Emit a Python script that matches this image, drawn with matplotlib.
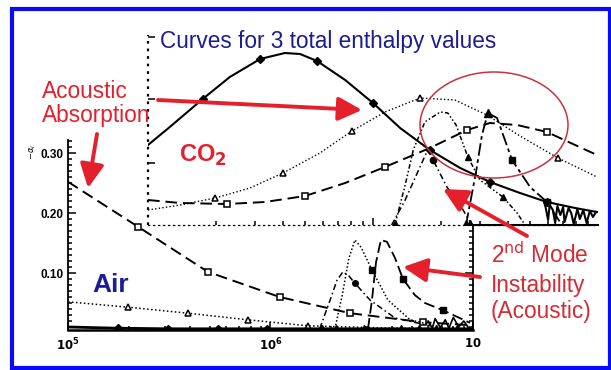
import numpy as np
import matplotlib
matplotlib.use("Agg")
import matplotlib.pyplot as plt
from matplotlib.patches import Rectangle, Ellipse
from matplotlib.ticker import LogLocator, NullFormatter, MultipleLocator

plt.rcParams['font.family'] = ['Liberation Sans', 'DejaVu Sans']

# ---- Air (bottom plot) ----
air_abs_re = [1.0e5, 2.22e5, 4.9e5, 1.11e6, 2.47e6, 5.66e6, 9.7e6]
air_abs_y = [0.252, 0.177, 0.102, 0.060, 0.033, 0.018, 0.013]
air_abs_mk = [1, 2, 3, 4, 5]

air_tri_re = [1.0e5, 1.98e5, 3.91e5, 7.74e5, 1.53e6, 4.0e6, 9.7e6]
air_tri_y = [0.052, 0.043, 0.033, 0.022, 0.012, 0.008, 0.007]
air_tri_mk = [1, 2, 3, 4]

air_sol_re = [1.0e5, 1.76e5, 3.1e5, 5.5e5, 9.6e5, 1.7e6, 9.9e6]
air_sol_y = [0.010, 0.008, 0.007, 0.007, 0.007, 0.007, 0.007]
air_sol_mk = [1, 2, 3, 4]

air_p1_re = [1.75e6, 1.97e6, 2.13e6, 2.28e6, 2.44e6, 2.61e6, 3.10e6, 4.12e6, 6.14e6]
air_p1_y = [0.007, 0.055, 0.088, 0.102, 0.095, 0.083, 0.055, 0.025, 0.012]
air_p2_re = [2.08e6, 2.26e6, 2.44e6, 2.61e6, 2.80e6, 3.17e6, 3.80e6, 4.89e6, 6.87e6]
air_p2_y = [0.007, 0.063, 0.125, 0.155, 0.143, 0.105, 0.055, 0.022, 0.010]
air_p3_re = [3.03e6, 3.17e6, 3.32e6, 3.51e6, 3.76e6, 4.12e6, 4.51e6, 5.17e6, 5.79e6, 7.1e6, 9.66e6]
air_p3_y = [0.007, 0.055, 0.118, 0.155, 0.152, 0.125, 0.090, 0.063, 0.050, 0.038, 0.017]

air_base_re = [1.8e6, 2.1e6, 2.9e6, 4.4e6, 5.4e6, 6.6e6, 8.3e6]
air_base_y = [0.009, 0.009, 0.009, 0.009, 0.009, 0.009, 0.009]

air_noise_re = [6.0e6, 6.3e6, 6.5e6, 6.9e6, 7.3e6, 7.6e6, 8.0e6, 8.5e6, 9.0e6, 9.5e6]
air_noise_y = [0.020, 0.008, 0.024, 0.009, 0.022, 0.008, 0.026, 0.010, 0.020, 0.009]

# ---- CO2 (top plot) ----
co2_sol_re = [1.0e5, 1.25e5, 1.75e5, 2.31e5, 3.15e5, 4.06e5, 4.74e5, 5.64e5, 7.52e5,
              1.0e6, 1.32e6, 1.79e6, 2.44e6, 3.31e6, 4.50e6, 5.93e6, 7.91e6, 9.9e6]
co2_sol_y = [0.160, 0.196, 0.252, 0.296, 0.332, 0.344, 0.342, 0.328, 0.290,
             0.244, 0.194, 0.150, 0.114, 0.086, 0.064, 0.046, 0.034, 0.026]
co2_sol_mk = [2, 4, 7, 9, 11, 13, 15]

co2_tri_re = [1.0e5, 1.39e5, 1.99e5, 2.84e5, 3.98e5, 5.81e5, 8.07e5, 1.13e6, 1.62e6,
              2.31e6, 3.21e6, 4.50e6, 6.64e6, 9.9e6]
co2_tri_y = [0.030, 0.040, 0.054, 0.074, 0.104, 0.144, 0.188, 0.226, 0.254,
             0.250, 0.220, 0.178, 0.134, 0.096]
co2_tri_mk = [2, 4, 6, 8, 12]

co2_sq_re = [1.0e5, 1.39e5, 2.24e5, 3.31e5, 4.99e5, 7.52e5, 1.13e6, 1.79e6, 2.62e6,
             3.31e6, 4.37e6, 5.93e6, 7.91e6, 9.9e6]
co2_sq_y = [0.050, 0.044, 0.042, 0.046, 0.058, 0.084, 0.116, 0.154, 0.190,
            0.204, 0.200, 0.186, 0.160, 0.140]
co2_sq_mk = [2, 4, 6, 8, 11]

co2_pa_re = [1.25e6, 1.39e6, 1.51e6, 1.70e6, 1.99e6, 2.15e6, 2.34e6, 2.64e6, 2.99e6, 3.78e6, 4.37e6, 4.74e6]
co2_pa_y = [0.0, 0.080, 0.150, 0.206, 0.226, 0.224, 0.200, 0.136, 0.090, 0.056, 0.024, 0.0]
co2_pb_re = [2.59e6, 2.87e6, 3.05e6, 3.24e6, 3.56e6, 4.15e6, 4.99e6, 5.93e6, 6.78e6]
co2_pb_y = [0.0, 0.106, 0.180, 0.224, 0.214, 0.130, 0.076, 0.046, 0.006]
co2_pc_re = [1.21e6, 1.39e6, 1.58e6, 1.75e6, 1.85e6, 2.13e6, 2.44e6, 2.70e6]
co2_pc_y = [0.0, 0.050, 0.106, 0.150, 0.130, 0.076, 0.040, 0.006]

co2_noise_re = [5.8e6, 6.0e6, 6.1e6, 6.3e6, 6.45e6, 6.6e6, 6.8e6, 7.0e6, 7.1e6, 7.4e6,
                7.6e6, 7.8e6, 8.1e6, 8.3e6, 8.6e6, 8.9e6, 9.2e6, 9.5e6, 9.8e6]
co2_noise_y = [0.044, 0.010, 0.040, 0.030, 0.004, 0.038, 0.020, 0.036, 0.006, 0.034,
               0.024, 0.002, 0.032, 0.012, 0.030, 0.004, 0.028, 0.016, 0.026]

air_xticklabels = [r'$\mathbf{10^5}$', r'$\mathbf{10^6}$', r'$\mathbf{10}$']
air_yticks = [0.10, 0.20, 0.30]
air_yticklabels = ['0.10', '0.20', '0.30']

W, H = 611, 370
fig = plt.figure(figsize=(W / 100, H / 100), dpi=100)
fig.patch.set_facecolor('white')


def px_axes(x0, y0, x1, y1, z):
    return fig.add_axes([x0 / W, 1 - y1 / H, (x1 - x0) / W, (y1 - y0) / H], zorder=z)


dash = (0, (6, 3))
dots = (0, (1, 1.6))

# Air axes
ax = px_axes(68, 140, 473, 330, 2)
ax.set_xscale('log')
ax.set_xlim(1e5, 1e7)
ax.set_ylim(0.005, 0.3217)
ax.plot(air_abs_re, air_abs_y, color='k', ls=dash, lw=1.4, marker='s', ms=5,
        mfc='white', mew=1.1, markevery=air_abs_mk)
ax.plot(air_tri_re, air_tri_y, color='k', ls=dots, lw=1.1, marker='^', ms=5,
        mfc='white', mew=1.1, markevery=air_tri_mk)
ax.plot(air_sol_re, air_sol_y, color='k', lw=2.0, marker='D', ms=4, markevery=air_sol_mk)
ax.plot(air_p1_re, air_p1_y, color='k', ls=(0, (4, 2, 1, 2)), lw=1.1, marker='o', ms=4,
        markevery=[5])
ax.plot(air_p2_re, air_p2_y, color='k', ls=(0, (1, 1.4)), lw=1.1, marker='s', ms=4,
        markevery=[5])
ax.plot(air_p3_re, air_p3_y, color='k', ls=(0, (6, 2.5)), lw=1.3, marker='s', ms=5,
        markevery=[6, 9])
ax.plot(air_base_re, air_base_y, ls='none', color='k', marker='^', ms=4)
ax.plot(air_noise_re, air_noise_y, color='k', lw=1.2)
ax.spines['top'].set_visible(False)
for s in ['left', 'right']:
    ax.spines[s].set_linewidth(1.3)
ax.spines['bottom'].set_linewidth(1.8)
ax.set_xticks([1e5, 1e6, 1e7])
ax.set_xticklabels(air_xticklabels)
ax.xaxis.set_minor_locator(LogLocator(base=10, subs=np.arange(2, 10)))
ax.xaxis.set_minor_formatter(NullFormatter())
ax.set_yticks(air_yticks)
ax.set_yticklabels(air_yticklabels, fontweight='bold')
ax.yaxis.set_minor_locator(MultipleLocator(0.01))
ax.tick_params(which='both', direction='in', right=True, labelsize=8.5, width=1.1)
ax.tick_params(which='major', length=6)
ax.tick_params(which='minor', length=3)
ax.tick_params(axis='x', pad=5)
ax.tick_params(axis='y', pad=3)

# CO2 axes
bx = px_axes(148, 35, 598, 225, 3)
bx.set_facecolor('white')
bx.set_xscale('log')
bx.set_xlim(1e5, 1e7)
bx.set_ylim(0, 0.38)
bx.plot(co2_sol_re, co2_sol_y, color='k', lw=1.5, marker='D', ms=4.5, markevery=co2_sol_mk)
bx.plot(co2_tri_re, co2_tri_y, color='k', ls=dots, lw=1.0, marker='^', ms=5,
        mfc='white', mew=1.1, markevery=co2_tri_mk)
bx.plot(co2_sq_re, co2_sq_y, color='k', ls=dash, lw=1.4, marker='s', ms=5,
        mfc='white', mew=1.1, markevery=co2_sq_mk)
bx.plot(co2_pa_re, co2_pa_y, color='k', ls=(0, (3, 1.5, 1, 1.5, 1, 1.5)), lw=1.1,
        marker='^', ms=5, markevery=[7, 9])
bx.plot(co2_pb_re, co2_pb_y, color='k', ls=(0, (7, 2, 2, 2)), lw=1.3,
        marker='s', ms=5, markevery=[5, 7])
bx.plot([co2_pb_re[3]], [co2_pb_y[3]], color='k', marker='^', ms=6, ls='none')
bx.plot(co2_pc_re, co2_pc_y, color='k', ls=(0, (4, 2, 1, 2)), lw=1.1,
        marker='o', ms=4.5, markevery=[4])
bx.plot(co2_noise_re, co2_noise_y, color='k', lw=1.5)
bx.plot([co2_pa_re[0], co2_pc_re[-1], co2_pb_re[0]], [0.004, 0.004, 0.004], ls='none',
        color='k', marker='^', ms=5)
for s in ['top', 'right', 'left']:
    bx.spines[s].set_visible(False)
bx.spines['bottom'].set_linestyle((0, (1, 3)))
bx.spines['bottom'].set_linewidth(0.9)
bx.plot([0.722, 1.0], [0, 0], transform=bx.transAxes, color='k', lw=1.5, clip_on=False)
bx.plot([0, 0], [0, 1], transform=bx.transAxes, color='k', lw=1.6, ls=(0, (1.2, 2.2)),
        clip_on=False)
bx.set_xticks([1e6])
bx.xaxis.set_minor_locator(LogLocator(base=10, subs=np.arange(2, 10)))
bx.xaxis.set_minor_formatter(NullFormatter())
bx.set_yticks([0.124, 0.252, 0.376])
bx.tick_params(which='both', direction='in', labelbottom=False, labelleft=False, width=1.1)
bx.tick_params(which='major', length=5)
bx.tick_params(which='minor', length=3)

# overlay for annotations
ov = fig.add_axes([0, 0, 1, 1], zorder=5)
ov.set_xlim(0, W)
ov.set_ylim(H, 0)
ov.axis('off')
ov.patch.set_alpha(0)

red = '#e3202b'
navy = '#1c1c94'
fs = 16.3
ov.add_patch(Rectangle((12, 9), 597.5, 358.5, fill=False, ec='#0a0af5', lw=3.0))
ov.add_patch(Ellipse((494, 125), 148, 106, fill=False, ec='#c8323e', lw=1.1))

ov.text(160, 48, 'Curves for 3 total enthalpy values', color=navy, fontsize=fs)
ov.text(42, 98, 'Acoustic', color=red, fontsize=fs)
ov.text(42, 122, 'Absorption', color=red, fontsize=fs)
ov.text(179, 162, r'CO$_\mathbf{2}$', color=red, fontsize=17, fontweight='bold')
ov.text(92, 292, 'Air', color=navy, fontsize=19, fontweight='bold')
ov.text(491, 263, r'2$^{\mathrm{nd}}$ Mode', color='#d62a35', fontsize=fs)
ov.text(491, 292, 'Instability', color='#d62a35', fontsize=fs)
ov.text(491, 318, '(Acoustic)', color='#d62a35', fontsize=fs)
ov.text(33, 152, r'$-\alpha_i$', rotation=90, fontsize=6, ha='center', va='center')

arrows = [((158, 100), (362, 110)), ((97, 134), (88, 188)),
          ((527, 236), (443, 189)), ((480, 277), (403, 267))]
for tail, tip in arrows:
    ov.annotate('', xy=tip, xytext=tail,
                arrowprops=dict(arrowstyle='-|>,head_width=0.6,head_length=1.2', lw=2.8,
                                color=red, shrinkA=0, shrinkB=0, mutation_scale=12))

fig.savefig('out.png', dpi=100)
